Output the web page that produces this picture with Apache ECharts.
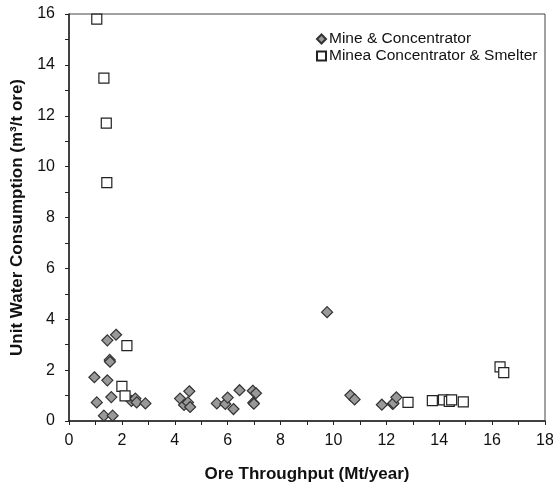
<!DOCTYPE html>
<html><head><meta charset="utf-8">
<script src="https://cdn.jsdelivr.net/npm/echarts@6/dist/echarts.min.js"></script>
<style>html,body{margin:0;padding:0;background:#fff}#c{width:553px;height:486px}</style>
</head><body><div id="c"></div>
<script>
const seriesNames = ['Mine & Concentrator', 'Minea Concentrator & Smelter'];
const mineX = [0.96,1.45,1.78,1.54,1.55,1.45,1.05,1.60,1.32,1.65,2.36,2.51,2.56,2.89,4.20,4.55,4.35,4.50,4.58,5.59,5.91,6.00,6.22,6.45,6.95,7.07,6.97,6.99,9.76,10.64,10.80,11.83,12.24,12.27,12.38];
const mineY = [1.72,3.17,3.39,2.40,2.33,1.60,0.73,0.94,0.21,0.21,0.79,0.88,0.73,0.69,0.88,1.17,0.63,0.73,0.55,0.69,0.67,0.92,0.47,1.21,1.19,1.09,0.72,0.68,4.28,1.01,0.85,0.64,0.67,0.70,0.93];
const smeltX = [1.05,1.32,1.41,1.43,2.19,2.00,2.12,12.82,13.74,14.16,14.38,14.47,14.91,16.30,16.44];
const smeltY = [15.8,13.48,11.71,9.37,2.96,1.36,0.99,0.73,0.80,0.83,0.77,0.83,0.75,2.13,1.90];
const xTitle = 'Ore Throughput (Mt/year)';
const yTitle = 'Unit Water Consumption (m³/t ore)';

const zip = (a, b) => a.map((v, i) => [v, b[i]]);
const font = 'Liberation Sans, Arial, sans-serif';
const axisCommon = {
  axisLine: {show: true, lineStyle: {color: '#222', width: 1.5}},
  axisTick: {show: true, inside: false, length: 4, lineStyle: {color: '#222'}},
  minorTick: {show: true, splitNumber: 2, length: 4, lineStyle: {color: '#222'}},
  splitLine: {show: false},
  axisLabel: {color: '#111', fontSize: 16, fontFamily: font},
  nameTextStyle: {color: '#111', fontSize: 17, fontWeight: 'bold', fontFamily: font}
};
const chart = echarts.init(document.getElementById('c'), null, {renderer: 'canvas'});
chart.setOption({
  animation: false,
  backgroundColor: '#fff',
  grid: {left: 69, right: 8, top: 14, bottom: 65, containLabel: false, outerBoundsMode: 'none',
         show: true, borderColor: '#444', borderWidth: 1},
  legend: {
    orient: 'vertical', left: 311, top: 26, itemGap: 1, itemWidth: 9, itemHeight: 9,
    textStyle: {fontSize: 15.5, fontFamily: font, color: '#111', padding: [0,0,0,-2]},
    data: [{name: seriesNames[0], icon: 'diamond'}, {name: seriesNames[1], icon: 'rect'}]
  },
  xAxis: Object.assign({}, axisCommon, {
    type: 'value', min: 0, max: 18, interval: 2,
    axisLabel: Object.assign({}, axisCommon.axisLabel, {margin: 12}),
    name: xTitle, nameLocation: 'middle', nameGap: 45
  }),
  yAxis: Object.assign({}, axisCommon, {
    type: 'value', min: 0, max: 16, interval: 2,
    axisLabel: Object.assign({}, axisCommon.axisLabel, {margin: 14}),
    name: yTitle, nameLocation: 'middle', nameGap: 38
  }),
  series: [
    {name: seriesNames[0], type: 'scatter', symbol: 'diamond', symbolSize: 11,
     itemStyle: {color: '#999', borderColor: '#333', borderWidth: 1.2, opacity: 1},
     data: zip(mineX, mineY)},
    {name: seriesNames[1], type: 'scatter', symbol: 'rect', symbolSize: 10,
     itemStyle: {color: '#fff', borderColor: '#222', borderWidth: 1.2, opacity: 1},
     data: zip(smeltX, smeltY)}
  ]
});
</script></body></html>
